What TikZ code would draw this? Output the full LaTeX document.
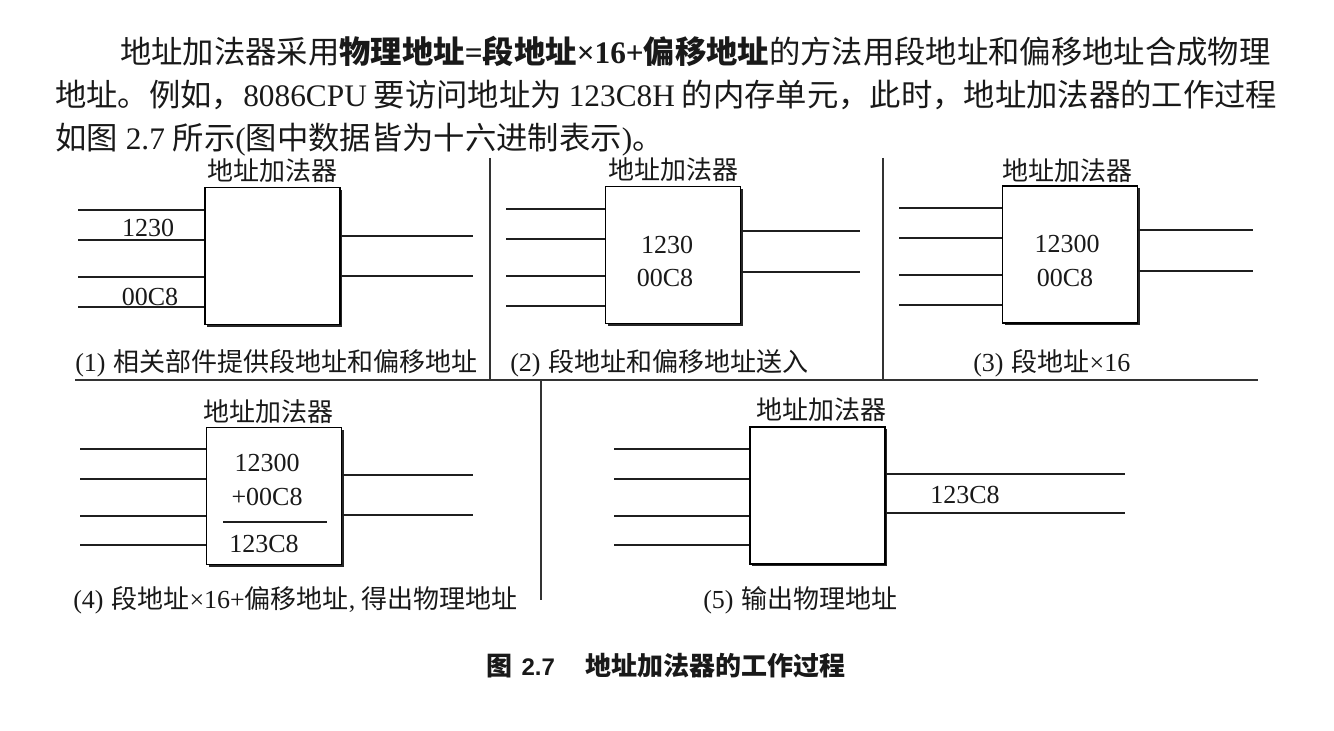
\documentclass[tikz,border=0pt]{standalone}
\usepackage{fontspec}
\setmainfont{Liberation Serif}
\newfontfamily\cjk{Noto Sans CJK SC}
\newfontfamily\capsans{Liberation Sans}
\usetikzlibrary{shadows}
\XeTeXlinebreaklocale "zh"
\XeTeXlinebreakskip = 0pt plus 2pt
\begin{document}
\begin{tikzpicture}[x=0.75pt,y=-0.75pt]
\tikzset{
  wire/.style={line width=1.35pt, draw=black!88},
  divider/.style={line width=1.3pt, draw=black!80},
  adder/.style={draw=black, line width=1.2pt, fill=white, inner sep=0pt,
    minimum width=101.25pt, minimum height=102.75pt,
    drop shadow={shadow xshift=1.7pt, shadow yshift=-1.7pt, opacity=1, fill=black!85}},
  ftext/.style={font=\fontsize{19.5pt}{22pt}\selectfont, inner sep=0pt, text=black!90},
  captext/.style={ftext, anchor=base west},
  ptext/.style={font=\fontsize{23.5pt}{28pt}\selectfont, inner sep=0pt, anchor=base west, text=black!90},
}
\useasboundingbox (0,0) rectangle (1334,731);
\fill[white] (0,0) rectangle (1334,731);

% ---------- paragraph ----------
\node[ptext] (para1) at (120,64) {\makebox[867.75pt][s]{{\cjk 地址加法器采用}{\cjk\bfseries 物理地址}{\bfseries =}{\cjk\bfseries 段地址}{\bfseries ×16+}{\cjk\bfseries 偏移地址}{\cjk 的方法用段地址和偏移地址合成物理}}};
\node[ptext] (para2) at (55,107) {\makebox[916.5pt][s]{{\cjk 地址。例如，}8086CPU {\cjk 要访问地址为} 123C8H {\cjk 的内存单元，此时，地址加法器的工作过程}}};
\node[ptext] (para3) at (55,150) {{\cjk 如图} 2.7 {\cjk 所示}({\cjk 图中数据皆为十六进制表示}){\cjk 。}};

% ---------- dividers ----------
\coordinate (dv1a) at (490,158); \coordinate (dv1b) at (490,380);
\coordinate (dv2a) at (883,158); \coordinate (dv2b) at (883,380);
\coordinate (dha) at (75,380);   \coordinate (dhb) at (1258,380);
\coordinate (dv3a) at (541,380); \coordinate (dv3b) at (541,600);
\draw[divider] (dv1a) -- (dv1b);
\draw[divider] (dv2a) -- (dv2b);
\draw[divider] (dha) -- (dhb);
\draw[divider] (dv3a) -- (dv3b);

% ---------- panel 1 ----------
\node[adder] (b1) at (272.5,256) {};
\node[ftext] (t1) at (272.5,171) {\cjk 地址加法器};
\foreach \yy [count=\k] in {210,240,277,307} {
  \coordinate (p1in\k) at (78,\yy);
  \draw[wire] (p1in\k) -- (p1in\k -| b1.west);
}
\foreach \yy [count=\k] in {236,276} {
  \coordinate (p1out\k) at (473,\yy);
  \draw[wire] (p1out\k -| b1.east) -- (p1out\k);
}
\node[ftext] (l1a) at (148,228) {1230};
\node[ftext] (l1b) at (150,297) {00C8};
\node[captext] (c1) at (75,371) {(1)\hspace{6pt}{\cjk 相关部件提供段地址和偏移地址}};

% ---------- panel 2 ----------
\node[adder] (b2) at (673,255) {};
\node[ftext] (t2) at (673,170) {\cjk 地址加法器};
\foreach \yy [count=\k] in {209,239,276,306} {
  \coordinate (p2in\k) at (506,\yy);
  \draw[wire] (p2in\k) -- (p2in\k -| b2.west);
}
\foreach \yy [count=\k] in {231,272} {
  \coordinate (p2out\k) at (860,\yy);
  \draw[wire] (p2out\k -| b2.east) -- (p2out\k);
}
\node[ftext] (l2a) at (667,245) {1230};
\node[ftext] (l2b) at (665,278) {00C8};
\node[captext] (c2) at (510,371) {(2)\hspace{6pt}{\cjk 段地址和偏移地址送入}};

% ---------- panel 3 ----------
\node[adder] (b3) at (1070,254.5) {};
\node[ftext] (t3) at (1067,171) {\cjk 地址加法器};
\foreach \yy [count=\k] in {208,238,275,305} {
  \coordinate (p3in\k) at (899,\yy);
  \draw[wire] (p3in\k) -- (p3in\k -| b3.west);
}
\foreach \yy [count=\k] in {230,271} {
  \coordinate (p3out\k) at (1253,\yy);
  \draw[wire] (p3out\k -| b3.east) -- (p3out\k);
}
\node[ftext] (l3a) at (1067,244) {12300};
\node[ftext] (l3b) at (1065,278) {00C8};
\node[captext] (c3) at (973,371) {(3)\hspace{6pt}{\cjk 段地址}×16};

% ---------- panel 4 ----------
\node[adder] (b4) at (274,496) {};
\node[ftext] (t4) at (268,412) {\cjk 地址加法器};
\foreach \yy [count=\k] in {449,479,516,545} {
  \coordinate (p4in\k) at (80,\yy);
  \draw[wire] (p4in\k) -- (p4in\k -| b4.west);
}
\foreach \yy [count=\k] in {475,515} {
  \coordinate (p4out\k) at (473,\yy);
  \draw[wire] (p4out\k -| b4.east) -- (p4out\k);
}
\node[ftext] (l4a) at (267,463) {12300};
\node[ftext] (l4b) at (267,497) {+00C8};
\coordinate (r4a) at (223,522); \coordinate (r4b) at (327,522);
\draw[line width=1pt, black!88] (r4a) -- (r4b);
\node[ftext] (l4c) at (264,544) {123C8};
\node[captext] (c4) at (73,608) {(4)\hspace{6pt}{\cjk 段地址}×16+{\cjk 偏移地址}, {\cjk 得出物理地址}};

% ---------- panel 5 ----------
\node[adder] (b5) at (817.5,495.5) {};
\node[ftext] (t5) at (821,410) {\cjk 地址加法器};
\foreach \yy [count=\k] in {449,479,516,545} {
  \coordinate (p5in\k) at (614,\yy);
  \draw[wire] (p5in\k) -- (p5in\k -| b5.west);
}
\foreach \yy [count=\k] in {474,513} {
  \coordinate (p5out\k) at (1125,\yy);
  \draw[wire] (p5out\k -| b5.east) -- (p5out\k);
}
\node[ftext] (l5a) at (965,495) {123C8};
\node[captext] (c5) at (703,608) {(5)\hspace{6pt}{\cjk 输出物理地址}};

% ---------- figure caption ----------
\node[anchor=base west, inner sep=0pt, text=black!90] (fig) at (486,675)
  {{\fontsize{19.5pt}{22pt}\selectfont\cjk\bfseries 图}\hspace{7pt}{\fontsize{18pt}{20pt}\selectfont\capsans\bfseries 2.7}\hspace{23pt}{\fontsize{19.5pt}{22pt}\selectfont\cjk\bfseries 地址加法器的工作过程}};
\end{tikzpicture}
\end{document}
